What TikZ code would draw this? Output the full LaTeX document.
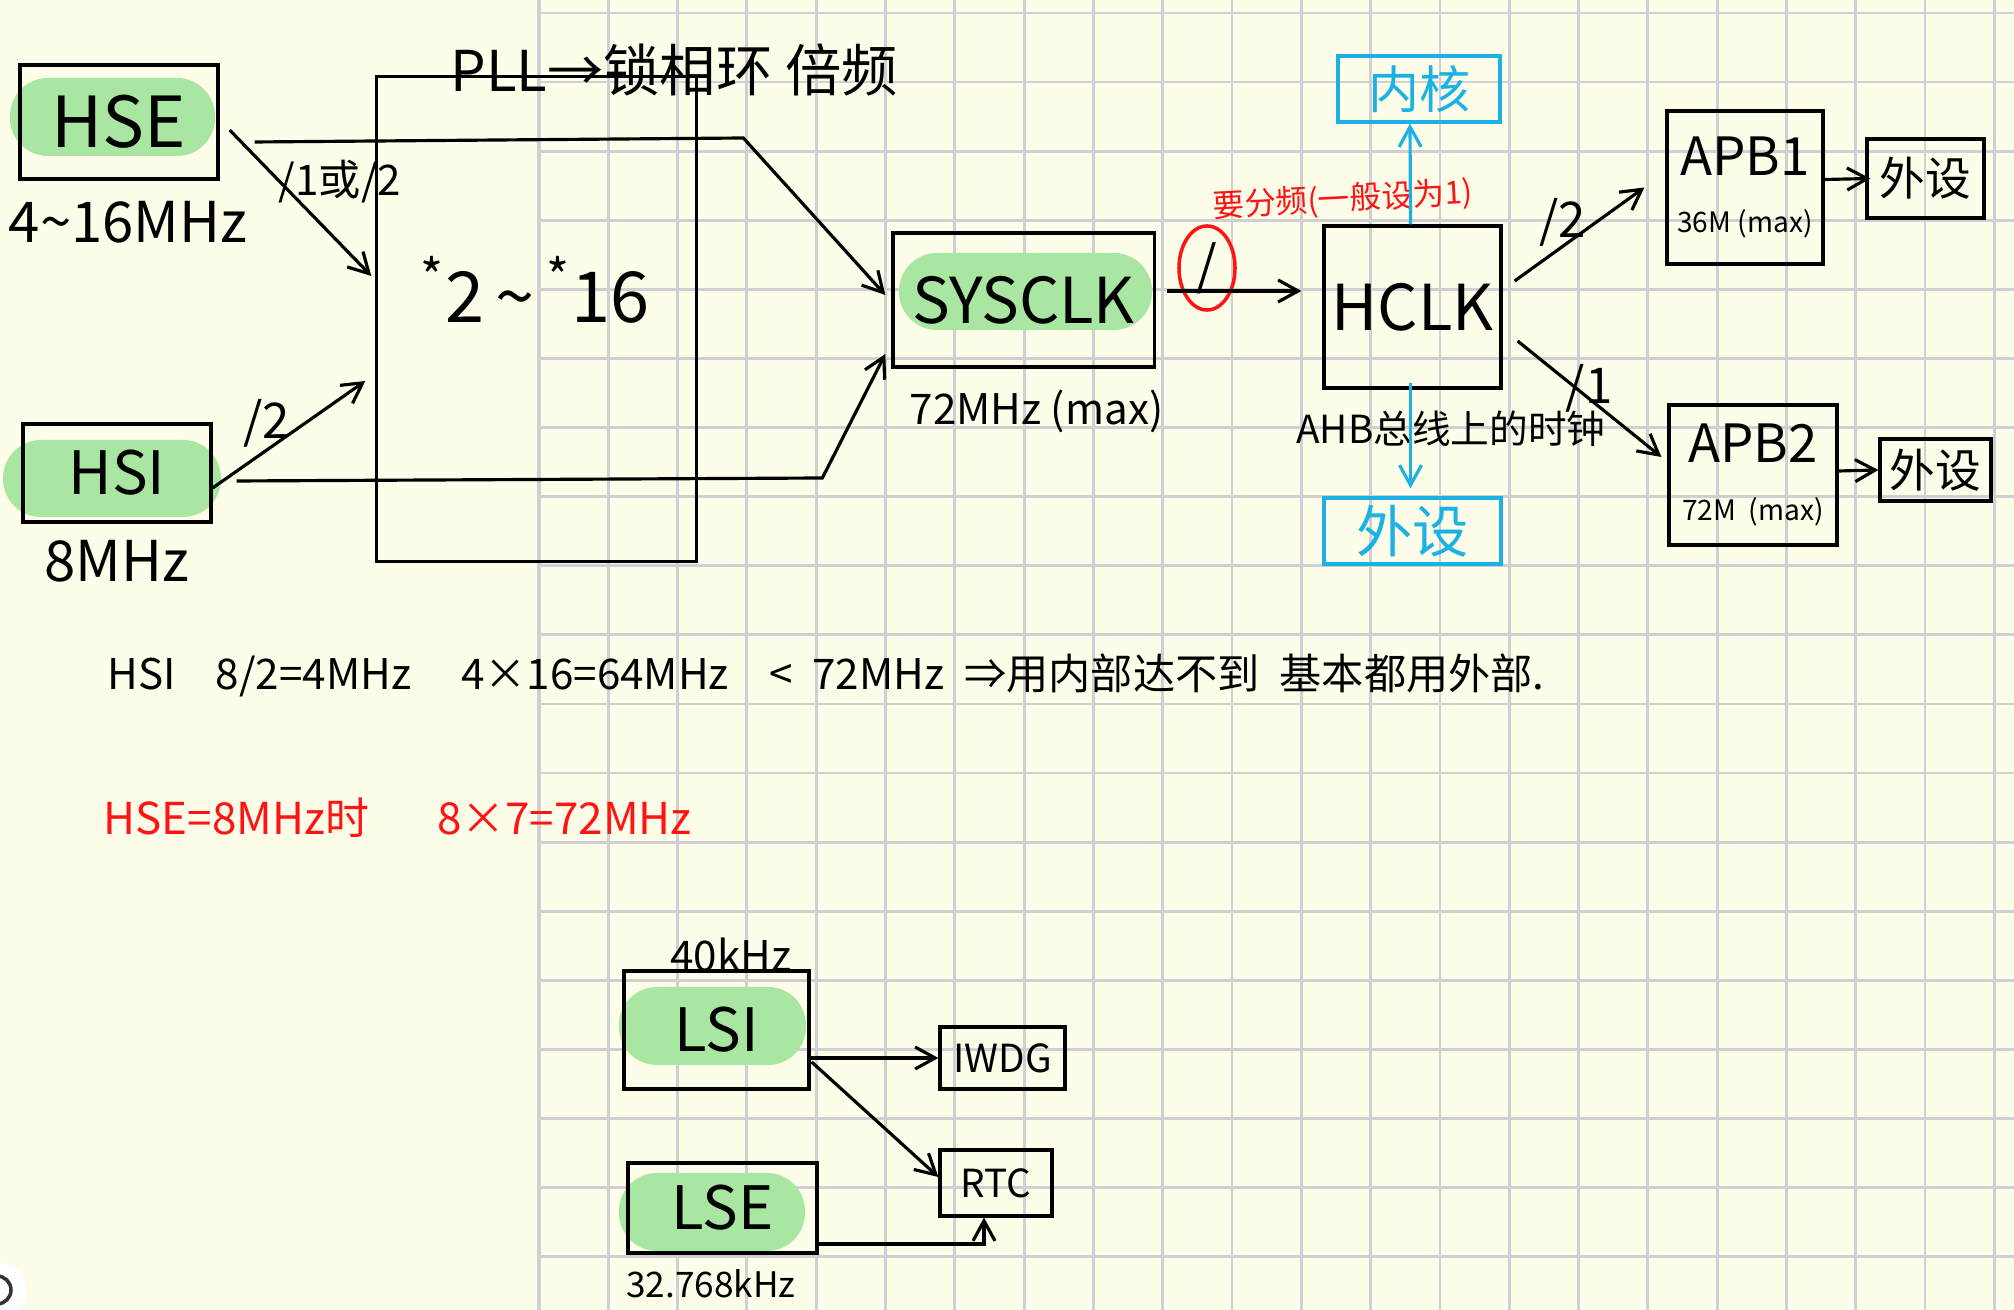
\documentclass[tikz,border=0pt]{standalone}
\usepackage{fontspec}
\setmainfont{Noto Sans CJK SC}
\usetikzlibrary{arrows.meta,positioning,shapes.geometric}

\definecolor{paper}{RGB}{253,253,233}
\definecolor{gridline}{RGB}{208,208,212}
\definecolor{hilite}{RGB}{168,230,162}
\definecolor{cyanink}{RGB}{26,178,228}
\definecolor{redink}{RGB}{255,20,20}

\newcommand{\fs}[1]{\fontsize{#1}{#1}\selectfont}

\begin{document}
\begin{tikzpicture}[
    x=0.01cm, y=-0.01cm,
    every node/.style={inner sep=0pt, font=\fs{12}},
    box/.style n args={2}{draw, line width=0.9pt, minimum width=#1, minimum height=#2, align=center},
    cbox/.style n args={2}{box={#1}{#2}, draw=cyanink, text=cyanink},
    arr/.style={-{Straight Barb[length=2mm,width=2.2mm]}, line width=0.9pt},
    carr/.style={arr, draw=cyanink},
    pill/.style={fill=hilite, rounded corners=0.38cm}
]

% paper and grid
\fill[paper] (0,0) rectangle (2014,1310);
\useasboundingbox (0,0) rectangle (2014,1310);
\clip (0,0) rectangle (2014,1310);
\foreach \k in {0,...,21}
    \draw[gridline, line width=0.8pt] ({539+69.3*\k},0) -- ({539+69.3*\k},1310);
\foreach \k in {0,...,18}
    \draw[gridline, line width=0.8pt] (539,{13+69.1*\k}) -- (2014,{13+69.1*\k});
\draw[gridline, line width=1.4pt] (539,0) -- (539,1310);

% green highlights
\fill[pill] (10,78) rectangle (215,156);
\fill[pill] (3,440) rectangle (221,517);
\fill[pill] (899,253) rectangle (1152,330);
\fill[pill] (619,987) rectangle (806,1065);
\fill[pill] (619,1173) rectangle (805,1251);

% high speed clocks
\node[box={19.8mm}{11.4mm}, font=\fs{20}] (hse) at (119,122) {HSE};
\node[box={18.8mm}{9.8mm}, font=\fs{17}] (hsi) at (117,473) {HSI};
\node[font=\fs{16}, below=2mm of hse, xshift=0.9mm] (hsefreq) {4\textasciitilde16MHz};
\node[font=\fs{16}, below=1.6mm of hsi] (hsifreq) {8MHz};

\node[box={31.9mm}{48.4mm}] (pll) at (536.5,319) {};
\node[font=\fs{20}] (mult) at (535,290) {\textsuperscript{*}2\,\textasciitilde\,\textsuperscript{*}16};
\node[font=\fs{16}, anchor=west] (plltitle) at (450,70) {PLL→锁相环\ 倍频};

\node[box={26.1mm}{13.4mm}, font=\fs{18}] (sysclk) at (1023.5,300) {SYSCLK};
\node[font=\fs{12}, below=2.1mm of sysclk, xshift=1.3mm] (sysfreq) {72MHz (max)};

\node[box={17.7mm}{16.2mm}, font=\fs{18}] (hclk) at (1412.5,307) {HCLK};
\node[cbox={16.2mm}{6.6mm}, font=\fs{14.5}] (core) at (1419,89) {内核};
\node[cbox={17.7mm}{6.6mm}, font=\fs{16}] (bus) at (1412.5,531) {外设};
\node[font=\fs{11}] (ahbnote) at (1451,429) {AHB总线上的时钟};

\node[box={15.6mm}{15.3mm}, font=\fs{15}] (apb1) at (1745,187.5) {APB1\\[0.5mm]{\fs{8}36M (max)}};
\node[box={11.7mm}{7.9mm}, font=\fs{13}] (per1) at (1925.5,178.5) {外设};
\node[box={16.8mm}{14mm}, font=\fs{15}] (apb2) at (1753,475) {APB2\\[0.5mm]{\fs{8}72M\ \ (max)}};
\node[box={11.1mm}{6.2mm}, font=\fs{13}] (per2) at (1935.5,470) {外设};

% divider labels
\node[font=\fs{12}] (hsediv) at (340,182) {/1或/2};
\node[font=\fs{14}] (hsidiv) at (267,423) {/2};
\node[draw=redink, line width=1pt, ellipse, minimum width=5.6mm, minimum height=8.4mm, font=\fs{15}] (ahbdiv) at (1207,268) {/};
\node[font=\fs{9}, text=redink, rotate=3] (divnote) at (1343,200) {要分频(一般设为1)};
\node[font=\fs{14}] (apb1div) at (1563,222) {/2};
\node[font=\fs{14}] (apb2div) at (1589,388) {/1};

% low speed clocks
\node[box={18.5mm}{11.8mm}, font=\fs{17}] (lsi) at (716.5,1030) {LSI};
\node[box={18.9mm}{9mm}, font=\fs{17}] (lse) at (722.5,1208) {LSE};
\node[box={12.5mm}{6.2mm}, font=\fs{11}] (iwdg) at (1002.5,1058) {IWDG};
\node[box={11.2mm}{6.6mm}, font=\fs{11}] (rtc) at (996,1183) {RTC};
\node[font=\fs{12}] (lsifreq) at (731,955) {40kHz};
\node[font=\fs{10}] (lsefreq) at (711,1284) {32.768kHz};

% notes
\node[font=\fs{12}, anchor=west] (calc1) at (107,675) {HSI\hspace{4mm}8/2=4MHz\hspace{5mm}4×16=64MHz\hspace{4mm}<\hspace{2mm}72MHz\hspace{2mm}⇒用内部达不到\hspace{2mm}基本都用外部.};
\node[font=\fs{12.5}, text=redink, anchor=west] (calc2) at (103,818) {HSE=8MHz时\hspace{6.8mm}8×7=72MHz};

% connectors
\draw[arr] ([shift={(10,8)}]hse.east) -- ([shift={(-4,-43)}]pll.west);
\draw[arr] ([shift={(35,20)}]hse.east) -- ([shift={(-148,-162)}]sysclk.west) -- ([shift={(-6,-5)}]sysclk.west);
\draw[arr] ([shift={(0,15)}]hsi.east) -- ([shift={(-10,62)}]pll.west);
\draw[arr] ([shift={(24,8)}]hsi.east) -- ([shift={(-69,178)}]sysclk.west) -- ([shift={(-6,54)}]sysclk.west);
\draw[arr] ([shift={(11,-9)}]sysclk.east) -- ([shift={(-21,-16)}]hclk.west);
\draw[carr] ([shift={(-2,0)}]hclk.north) -- ([shift={(-9,0)}]core.south);
\draw[carr] ([shift={(-2,-7)}]hclk.south) -- ([shift={(-2,-8)}]bus.north);
\draw[arr] ([shift={(12,-26)}]hclk.east) -- ([shift={(-21,0)}]apb1.west);
\draw[arr] ([shift={(15,34)}]hclk.east) -- ([shift={(-6,-18)}]apb2.west);
\draw[arr] ([shift={(0,-8)}]apb1.east) -- ([shift={(5,0)}]per1.west);
\draw[arr] ([shift={(0,-4)}]apb2.east) -- (per2.west);
\draw[arr] ([shift={(0,28)}]lsi.east) -- (iwdg.west);
\draw[arr] ([shift={(1,32)}]lsi.east) -- ([shift={(0,-6)}]rtc.west);
\draw[arr] ([shift={(-3,36)}]lse.east) -| ([shift={(-12,0)}]rtc.south);

% corner button
\fill[white] (0,1290) circle (27);
\draw[line width=1pt, black!80] (-3,1290) circle (14);

\end{tikzpicture}
\end{document}
